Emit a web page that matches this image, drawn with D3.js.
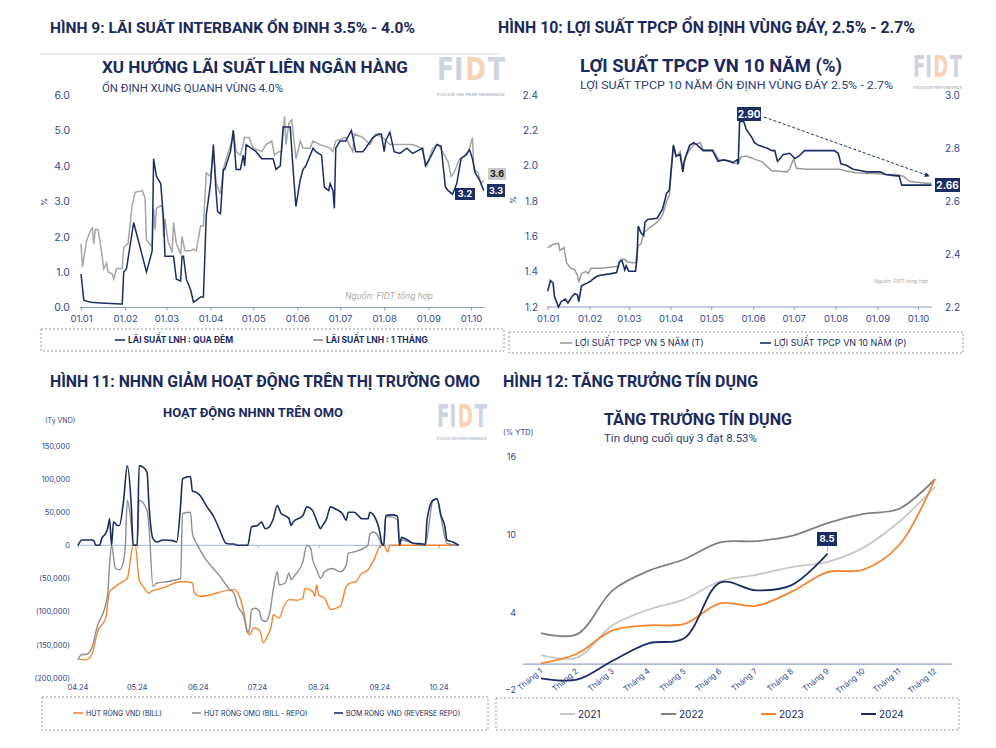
<!DOCTYPE html>
<html><head><meta charset="utf-8">
<script src="https://cdn.jsdelivr.net/npm/d3@7"></script>
<style>
body{margin:0;background:#fff;}
svg{display:block;font-family:Inter,"Noto Sans",sans-serif;}
</style></head><body>
<svg id="c" width="996" height="748"></svg>
<script>
// ---------------- DATA ----------------
// Panel 1: interbank rates (day index from 01.01.2024)
const ovnDays = [0,2,7,14,28,29,30,32,37,46,50,51,53,56,58,59,65,67,70,71,72,74,77,79,81,84,86,88,91,93,95,96,98,100,101,105,107,109,112,114,115,116,123,127,135,137,140,142,147,149,151,154,156,158,163,165,169,171,174,175,177,178,179,182,186,190,193,198,200,205,209,211,213,214,217,220,224,229,233,240,242,245,250,253,256,258,261,264,267,270,273,275,277,280,283];
const ovnVals = [0.95,0.2,0.15,0.13,0.1,0.1,1.0,1.1,2.4,1.0,1.6,4.2,3.7,3.5,2.5,1.45,1.45,0.8,0.75,1.45,1.45,0.8,0.5,0.15,0.2,0.3,0.3,2.6,3.5,4.6,3.2,2.7,2.65,3.9,3.9,4.4,5.0,3.9,3.9,4.3,4.0,4.6,4.4,4.2,4.2,3.9,4.0,5.1,5.1,3.9,2.85,3.6,3.9,4.0,4.5,4.4,4.3,3.4,3.3,3.5,3.3,2.8,4.5,4.7,4.7,5.0,4.4,4.4,4.5,4.8,4.9,4.9,4.4,4.7,4.95,4.4,4.35,4.5,4.35,4.5,4.0,4.2,4.6,4.55,3.4,3.3,3.2,3.5,4.2,4.3,4.45,4.2,3.8,3.6,3.3];
const m1Days = [0,1,4,7,8,9,10,12,14,16,18,19,22,23,25,29,30,33,36,38,43,45,46,49,50,51,52,53,57,58,59,61,64,65,67,70,71,73,77,79,81,84,86,88,91,93,95,98,100,102,106,107,109,112,115,118,121,127,130,134,136,139,141,143,144,146,148,150,151,153,154,156,161,163,168,175,177,179,186,191,192,198,203,207,212,217,224,229,233,239,243,247,251,254,258,260,262,266,271,273,275,276,279,281,283];
const m1Vals = [1.8,1.15,1.9,2.2,2.25,1.8,2.2,2.2,1.7,1.1,1.25,1.0,0.95,0.8,1.1,1.1,1.7,1.8,2.9,3.25,3.3,3.1,1.9,1.75,1.7,2.8,2.2,2.8,2.9,2.0,2.5,1.9,1.55,2.4,1.8,1.5,2.0,1.6,1.6,1.65,1.6,2.3,2.3,3.8,3.7,4.4,3.5,3.2,3.9,4.2,4.7,5.0,4.4,4.3,4.8,4.8,4.5,4.4,4.6,4.7,4.3,4.4,4.4,5.4,4.6,5.2,5.3,4.6,4.2,4.5,4.7,4.5,4.5,4.7,4.6,4.5,4.4,4.7,4.8,4.4,4.9,4.8,4.6,4.9,4.8,4.6,4.6,4.6,4.6,4.5,4.0,4.5,4.6,4.4,4.1,3.7,3.8,4.2,4.3,4.5,4.8,3.9,3.8,3.5,3.6];
const p1YTicks = [0,1,2,3,4,5,6];
const p1XLabels = ["01.01","01.02","01.03","01.04","01.05","01.06","01.07","01.08","01.09","01.10"];

// Panel 2: government bond yields (day index from 01.01.2024)
const y5Days = [0,4,8,9,12,14,17,20,22,23,25,28,30,32,39,46,52,54,57,59,63,65,67,69,71,74,81,85,88,90,93,95,98,100,102,105,108,113,115,122,127,132,135,137,141,143,147,152,159,163,166,169,177,179,182,184,191,206,216,221,228,236,243,250,258,263,268,275,280,284];
const y5Vals = [1.536,1.555,1.56,1.52,1.536,1.45,1.42,1.41,1.38,1.34,1.39,1.40,1.39,1.42,1.42,1.425,1.43,1.47,1.47,1.455,1.45,1.45,1.55,1.555,1.62,1.64,1.68,1.72,1.80,1.83,2.12,2.05,2.08,1.97,2.05,2.09,2.12,2.13,2.09,2.09,2.03,2.03,2.02,2.015,2.01,2.05,2.055,2.04,2.02,1.99,1.97,1.97,1.965,1.98,2.04,1.985,1.98,1.98,1.98,1.97,1.96,1.955,1.955,1.95,1.95,1.94,1.91,1.905,1.9,1.9];
const y10Days = [0,2,4,5,8,10,13,15,18,20,22,23,25,29,31,36,39,46,51,53,55,57,58,60,65,66,67,69,71,72,74,81,85,88,90,93,95,98,100,101,105,108,111,115,122,126,130,135,137,140,141,142,145,147,151,153,156,162,166,168,170,172,174,179,183,186,190,199,206,212,215,217,221,226,231,236,246,250,258,260,262,268,275,284];
const y10Vals = [2.26,2.30,2.29,2.24,2.20,2.22,2.23,2.215,2.24,2.25,2.245,2.22,2.28,2.29,2.295,2.315,2.32,2.325,2.33,2.37,2.375,2.34,2.355,2.335,2.335,2.38,2.505,2.48,2.47,2.52,2.53,2.535,2.57,2.63,2.64,2.81,2.77,2.775,2.71,2.75,2.81,2.82,2.81,2.79,2.79,2.75,2.755,2.75,2.745,2.755,2.74,2.90,2.90,2.87,2.84,2.82,2.81,2.80,2.79,2.79,2.75,2.76,2.775,2.78,2.76,2.77,2.79,2.79,2.79,2.79,2.78,2.74,2.735,2.72,2.715,2.71,2.71,2.70,2.695,2.695,2.66,2.66,2.66,2.66];
const p2LeftTicks = [1.2,1.4,1.6,1.8,2.0,2.2,2.4];
const p2RightTicks = [2.2,2.4,2.6,2.8,3.0];

// Panel 3: OMO (day index from 01.04.2024, values in VND bn)
const billDays = [0,4,7,10,14,16,17,19,21,24,25,28,29,31,33,36,38,40,45,52,55,58,59,62,79,81,84,86,87,89,92,94,96,98,99,102,104,107,111,114,115,119,120,121,122,125,128,133,136,138,141,143,147,150,153,155,157,158,193];
const billVals = [-172000,-173000,-165000,-130000,-110000,-70000,-67000,-62000,-58000,-52000,-50000,0,0,-52000,-62000,-72000,-68000,-67000,-62000,-55000,-55000,-57000,-72000,-77000,-67000,-72000,-100000,-132000,-135000,-125000,-128000,-147000,-137000,-122000,-105000,-110000,-95000,-82000,-83000,-80000,-65000,-70000,-77000,-60000,-75000,-80000,-97000,-92000,-62000,-57000,-55000,-45000,-37000,-22000,-2000,0,-10000,0,0];
const netDays = [0,2,4,7,10,13,15,16,17,19,21,23,24,25,27,28,30,31,35,36,38,40,45,50,52,53,57,58,60,62,65,72,77,79,81,84,86,87,88,90,92,93,95,97,99,101,102,105,107,108,110,114,116,118,119,121,123,125,129,133,136,137,140,143,147,148,150,153,154,155,156,159,162,163,164,170,176,180,182,184,187,193];
const netVals = [-172000,-165000,-165000,-155000,-120000,-100000,-75000,-30000,0,-35000,-37000,-25000,0,68000,30000,0,0,68000,53000,28000,-62000,-57000,-55000,-52000,-50000,48000,50000,18000,3000,-8000,-22000,-47000,-67000,-72000,-92000,-107000,-132000,-125000,-97000,-95000,-100000,-112000,-115000,-105000,-67000,-40000,-60000,-57000,-42000,-52000,-45000,-25000,0,-5000,-22000,-37000,-50000,-40000,-35000,-40000,-30000,-12000,-10000,-7000,0,17000,20000,8000,0,0,43000,43000,38000,0,8000,3000,0,68000,70000,43000,3000,0];
const rrDays = [0,2,7,8,9,11,12,14,15,16,17,18,20,21,23,25,27,28,30,31,33,35,36,38,40,43,48,50,52,53,55,57,58,60,62,65,69,72,75,77,79,81,86,88,91,93,95,97,99,101,103,106,107,108,109,114,116,119,120,122,123,124,126,128,131,134,136,137,140,142,144,147,148,150,153,154,155,156,159,162,163,164,167,170,175,176,177,180,182,184,186,187,190,193];
const rrVals = [0,8000,8000,7000,0,0,10000,18000,25000,40000,0,35000,30000,30000,65000,120000,60000,0,0,120000,118000,110000,60000,10000,5000,8000,7000,5000,60000,100000,103000,104000,82000,80000,75000,60000,42000,22000,3000,2000,2000,0,0,28000,30000,35000,25000,28000,40000,60000,48000,43000,40000,30000,35000,45000,58000,52000,45000,30000,25000,30000,40000,58000,54000,48000,38000,50000,50000,45000,40000,40000,50000,45000,20000,3000,0,45000,46000,44000,0,12000,8000,3000,2000,1000,40000,68000,70000,45000,28000,8000,5000,0];
const p3YTicks = [150000,100000,50000,0,-50000,-100000,-150000,-200000];
const p3XLabels = ["04.24","05.24","06.24","07.24","08.24","09.24","10.24"];

// Panel 4: credit growth (% YTD)
const months = ["Tháng 1","Tháng 2","Tháng 3","Tháng 4","Tháng 5","Tháng 6","Tháng 7","Tháng 8","Tháng 9","Tháng 10","Tháng 11","Tháng 12"];
const c2021 = [0.7,0.5,3.0,4.2,5.0,6.4,6.9,7.5,7.9,9.0,11.0,13.7];
const c2022 = [2.4,2.3,5.7,7.2,8.1,9.4,9.5,9.9,10.9,11.6,12.0,14.3];
const c2023 = [0.05,0.8,2.6,3.0,3.1,4.7,4.5,5.6,7.1,7.3,9.2,14.3];
const c2024 = [-1.1,-1.2,0.26,1.6,2.0,6.3,5.7,6.1,8.53];
const p4YTicks = [16,10,4,-2];

// ---------------- STYLE ----------------
const NAVY = "#1c2d64", TXT = "#1b2a5c", SUB = "#2c3d75", AX = "#34488a", AXL = "#8b9ac4";
const GRAY = "#a6a6a6", ORANGE = "#f5862f";

const svg = d3.select("#c");
svg.append("rect").attr("width",996).attr("height",748).attr("fill","#fff");

function addText(x, y, s, size, o = {}) {
  const t = (o.parent||svg).append("text").attr("x",x).attr("y",y).text(s)
    .attr("font-size",size).attr("fill",o.fill||TXT).attr("font-weight",o.weight||400);
  if (o.anchor) t.attr("text-anchor",o.anchor);
  if (o.italic) t.attr("font-style","italic");
  if (o.family) t.attr("font-family",o.family);
  if (o.len) {
    // shrink the font until its natural width fits, then stretch to exact width
    const nat = t.node().getComputedTextLength();
    if (nat > o.len) t.attr("font-size", size * o.len / nat * 0.995);
    t.attr("textLength",o.len).attr("lengthAdjust","spacingAndGlyphs");
  }
  if (o.rotate) t.attr("transform",`rotate(${o.rotate},${x},${y})`);
  return t;
}
function logo(x, y, w, h, tagY) {
  const fam = "'DejaVu Sans',sans-serif", fs = 20;
  const g = svg.append("g");
  let cx = 0;
  [["FI","#cdd3df"],["D","#f7d3b6"],["T","#cdd3df"]].forEach(([s,col]) => {
    const t = addText(cx, 0, s, fs, {fill:col, weight:900, family:fam, parent:g});
    cx += t.node().getComputedTextLength() + 1.5;
  });
  cx -= 1.5;
  g.attr("transform",`translate(${x},${y+h}) scale(${w/cx},${h/(fs*0.73)})`);
  addText(x, tagY, "FOCUS ON PERFORMANCE", 4, {fill:"#b8bfcc", weight:700, len:w});
}
function tag(x, y, w, h, fill, s, tc, fs) {
  svg.append("rect").attr("x",x).attr("y",y).attr("width",w).attr("height",h).attr("fill",fill);
  addText(x+w/2, y+h/2+fs*0.36, s, fs, {fill:tc, weight:700, anchor:"middle"});
}
function legendBox(x, y, w, h) {
  svg.append("rect").attr("x",x).attr("y",y).attr("width",w).attr("height",h)
    .attr("fill","none").attr("stroke","#8d97bd").attr("stroke-width",1).attr("stroke-dasharray","2,2");
}
function legendItem(x, y, len, color, s, fs, weight, sw) {
  svg.append("line").attr("x1",x).attr("x2",x+len).attr("y1",y).attr("y2",y)
    .attr("stroke",color).attr("stroke-width",sw||1.6);
  addText(x+len+3, y+fs*0.36, s, fs, {fill:TXT, weight:weight||400});
}
function styleAxis(g, lineColor, fs, color) {
  g.selectAll("text").attr("font-size",fs).attr("fill",color).attr("font-family","Inter,'Noto Sans',sans-serif");
  g.select(".domain").attr("stroke",lineColor);
  g.selectAll(".tick line").attr("stroke",lineColor);
}
const zip = (a,b) => a.map((d,i)=>[d,b[i]]);
const TF = "Roboto,Inter,sans-serif";

// ---------------- PANEL TITLES ----------------
addText(50,33,"HÌNH 9: LÃI SUẤT INTERBANK ỔN ĐINH 3.5% - 4.0%",16,{weight:700,len:365,family:TF});
addText(498,33,"HÌNH 10: LỢI SUẤT TPCP ỔN ĐỊNH VÙNG ĐÁY, 2.5% - 2.7%",16,{weight:700,len:417,family:TF});
addText(50,387,"HÌNH 11: NHNN GIẢM HOẠT ĐỘNG TRÊN THỊ TRƯỜNG OMO",16,{weight:700,len:430,family:TF});
addText(503,387,"HÌNH 12: TĂNG TRƯỞNG TÍN DỤNG",16,{weight:700,len:255,family:TF});
svg.append("line").attr("x1",40).attr("x2",500).attr("y1",54).attr("y2",54).attr("stroke","#dcdcdc");

// ---------------- PANEL 1 ----------------
addText(102,73,"XU HƯỚNG LÃI SUẤT LIÊN NGÂN HÀNG",18,{weight:700,len:306,family:TF});
addText(102,92,"ỔN ĐỊNH XUNG QUANH VÙNG 4.0%",11,{fill:SUB,len:181,family:TF});
logo(437,57,68,23,96);
const d0 = new Date(2024,0,1);
const dayDate = (base, d) => new Date(base.getFullYear(), base.getMonth(), base.getDate()+d);
const x1 = d3.scaleTime().domain([d0,new Date(2024,9,1)]).range([81,471]);
const y1 = d3.scaleLinear().domain([0,6]).range([307.5,95]);
const ax1 = svg.append("g").attr("transform","translate(0,307.5)")
  .call(d3.axisBottom(x1).tickValues(p1XLabels.map((s,i)=>new Date(2024,i,1))).tickFormat((d,i)=>p1XLabels[i]).tickSize(3).tickPadding(5))
  .call(g=>g.select(".domain").attr("d","M80,0H485"));
styleAxis(ax1, AXL, 9.5, AX);
const ay1 = svg.append("g").attr("transform","translate(81,0)")
  .call(d3.axisLeft(y1).tickValues(p1YTicks).tickFormat(d3.format(".1f")).tickSize(0).tickPadding(11));
ay1.select(".domain").remove();
styleAxis(ay1, AXL, 10.5, AX);
addText(47,202,"%",8,{fill:AX,rotate:-90,anchor:"middle"});
const l1 = d3.line().x(d=>x1(dayDate(d0,d[0]))).y(d=>y1(d[1]));
svg.append("path").attr("d",l1(zip(m1Days,m1Vals))).attr("fill","none").attr("stroke",GRAY).attr("stroke-width",1.5);
svg.append("path").attr("d",l1(zip(ovnDays,ovnVals))).attr("fill","none").attr("stroke",NAVY).attr("stroke-width",1.5);
addText(345,299,"Nguồn: FIDT tổng hợp",9.5,{fill:"#aaaaaa",italic:true,len:88});
tag(455,188,20,12,NAVY,"3.2","#fff",9);
tag(488,168,18,12,"#c9c9c9","3.6","#1a1a1a",9);
tag(487,184,18,13,NAVY,"3.3","#fff",9);
legendBox(41,329,463,22);
legendItem(115,340,10,NAVY,"LÃI SUẤT LNH : QUA ĐÊM",8.5,700);
legendItem(313,340,10,"#8c8c8c","LÃI SUẤT LNH : 1 THÁNG",8.5,700);

// ---------------- PANEL 2 ----------------
addText(580,72,"LỢI SUẤT TPCP VN 10 NĂM (%)",19,{weight:700,len:262,family:TF});
addText(580,89,"LỢI SUẤT TPCP 10 NĂM ỔN ĐỊNH VÙNG ĐÁY 2.5% - 2.7%",11.5,{fill:SUB,len:313,family:TF});
logo(913,55,49,22,89);
const x2 = d3.scaleTime().domain([d0,new Date(2024,9,1)]).range([547.7,918]);
const y2L = d3.scaleLinear().domain([1.2,2.4]).range([307,95]);
const y2R = d3.scaleLinear().domain([2.2,3.0]).range([307,95]);
const ax2 = svg.append("g").attr("transform","translate(0,307)")
  .call(d3.axisBottom(x2).tickValues(p1XLabels.map((s,i)=>new Date(2024,i,1))).tickFormat((d,i)=>p1XLabels[i]).tickSize(3).tickPadding(5))
  .call(g=>g.select(".domain").attr("d","M547,0H932"));
styleAxis(ax2, AXL, 9.5, AX);
const ay2 = svg.append("g").attr("transform","translate(548,0)")
  .call(d3.axisLeft(y2L).tickValues(p2LeftTicks).tickFormat(d3.format(".1f")).tickSize(0).tickPadding(10));
ay2.select(".domain").remove(); styleAxis(ay2, AXL, 10, AX);
const ay2r = svg.append("g").attr("transform","translate(932,0)")
  .call(d3.axisRight(y2R).tickValues(p2RightTicks).tickFormat(d3.format(".1f")).tickSize(0).tickPadding(13));
ay2r.select(".domain").remove(); styleAxis(ay2r, AXL, 10, AX);
addText(516,200,"%",8,{fill:AX,rotate:-90,anchor:"middle"});
const l2L = d3.line().x(d=>x2(dayDate(d0,d[0]))).y(d=>y2L(d[1]));
const l2R = d3.line().x(d=>x2(dayDate(d0,d[0]))).y(d=>y2R(d[1]));
svg.append("path").attr("d",l2L(zip(y5Days,y5Vals))).attr("fill","none").attr("stroke","#9b9b9b").attr("stroke-width",1.5);
svg.append("path").attr("d",l2R(zip(y10Days,y10Vals))).attr("fill","none").attr("stroke",NAVY).attr("stroke-width",1.6);
svg.append("defs").append("marker").attr("id","ah").attr("viewBox","0 0 6 6").attr("refX",5).attr("refY",3)
  .attr("markerWidth",5).attr("markerHeight",5).attr("orient","auto")
  .append("path").attr("d","M0,0L6,3L0,6Z").attr("fill",NAVY);
svg.append("line").attr("x1",764).attr("y1",117).attr("x2",929).attr("y2",176)
  .attr("stroke",NAVY).attr("stroke-width",1).attr("stroke-dasharray","3,2").attr("marker-end","url(#ah)");
tag(737,107,24,14,NAVY,"2.90","#fff",10);
tag(935,178,25,14,NAVY,"2.66","#fff",10);
addText(874,283,"Nguồn: FIDT tổng hợp",5.5,{fill:"#aaaaaa",italic:true,len:54});
legendBox(509,332,454,21);
legendItem(560,343,12,"#9b9b9b","LỢI SUẤT TPCP VN 5 NĂM (T)",9,400);
legendItem(760,343,11,NAVY,"LỢI SUẤT TPCP VN 10 NĂM (P)",9,400);

// ---------------- PANEL 3 ----------------
addText(163,417,"HOẠT ĐỘNG NHNN TRÊN OMO",13,{weight:700,len:180,family:TF});
addText(45,423,"(Tỷ VND)",7,{fill:AX});
logo(437,404,50,23,440);
const a0 = new Date(2024,3,1);
const x3 = d3.scaleTime().domain([a0,new Date(2024,9,1)]).range([78,439]);
const y3 = d3.scaleLinear().domain([-200000,150000]).range([677.7,446]);
const fmt3 = v => v < 0 ? "(" + d3.format(",")(-v) + ")" : d3.format(",")(v);
const ay3 = svg.append("g").attr("transform","translate(77,0)")
  .call(d3.axisLeft(y3).tickValues(p3YTicks).tickFormat(fmt3).tickSize(0).tickPadding(7));
ay3.select(".domain").remove(); styleAxis(ay3, AXL, 7.5, AX);
const ax3 = svg.append("g").attr("transform",`translate(0,${y3(0)})`)
  .call(d3.axisBottom(x3).tickValues(p3XLabels.map((s,i)=>new Date(2024,3+i,1))).tickFormat("").tickSize(3))
  .call(g=>g.select(".domain").attr("d","M77,0H458"));
styleAxis(ax3, "#a9b5d6", 7.5, AX);
p3XLabels.forEach((s,i)=>addText(x3(new Date(2024,3+i,1)),690,s,7.5,{fill:AX,anchor:"middle"}));
const l3 = d3.line().curve(d3.curveMonotoneX).x(d=>x3(dayDate(a0,d[0]))).y(d=>y3(d[1]));
svg.append("path").attr("d",l3(zip(billDays,billVals))).attr("fill","none").attr("stroke",ORANGE).attr("stroke-width",1.4);
svg.append("path").attr("d",l3(zip(netDays,netVals))).attr("fill","none").attr("stroke","#8e8e8e").attr("stroke-width",1.4);
svg.append("path").attr("d",l3(zip(rrDays,rrVals))).attr("fill","none").attr("stroke",NAVY).attr("stroke-width",1.6);
legendBox(42,697,446,33);
legendItem(73,713,10,ORANGE,"HÚT RÒNG VND (BILL)",7,400);
legendItem(192,713,9,"#8e8e8e","HÚT RÒNG OMO (BILL - REPO)",7,400);
legendItem(334,713,9,NAVY,"BƠM RÒNG VND (REVERSE REPO)",7,400);

// ---------------- PANEL 4 ----------------
addText(604,425,"TĂNG TRƯỞNG TÍN DỤNG",16.5,{weight:700,len:188,family:TF});
addText(604,442,"Tín dụng cuối quý 3 đạt 8.53%",12,{fill:SUB,len:153,family:TF});
addText(503,435,"(% YTD)",7.5,{fill:AX});
const x4 = d3.scalePoint().domain(months).range([541,935]);
const y4 = d3.scaleLinear().domain([-2,16]).range([690,457]);
const ay4 = svg.append("g").attr("transform","translate(523,0)")
  .call(d3.axisLeft(y4).tickValues(p4YTicks).tickFormat(d3.format("d")).tickSize(0).tickPadding(7));
ay4.select(".domain").remove(); styleAxis(ay4, AXL, 9, AX);
svg.append("line").attr("x1",523).attr("x2",952).attr("y1",y4(0)).attr("y2",y4(0)).attr("stroke","#8fa0cc").attr("stroke-width",1.2);
months.forEach(m=>addText(x4(m)+2,672,m,8,{fill:AX,anchor:"end",rotate:-40}));
const l4 = d3.line().curve(d3.curveCatmullRom.alpha(0.5)).x((d,i)=>x4(months[i])).y(d=>y4(d));
[[c2021,"#c8c8c8"],[c2022,"#808080"],[c2023,ORANGE],[c2024,NAVY]].forEach(([arr,col])=>{
  svg.append("path").attr("d",l4(arr)).attr("fill","none").attr("stroke",col).attr("stroke-width",1.8);
});
svg.append("line").attr("x1",x4(months[8])).attr("x2",x4(months[8])).attr("y1",546).attr("y2",y4(c2024[8])-2).attr("stroke","#9aa3bd").attr("stroke-width",0.8);
tag(817,532,20,14,NAVY,"8.5","#fff",9.5);
legendBox(496,698,463,32);
legendItem(560,714,15,"#c8c8c8","2021",10,400,2);
legendItem(661,714,15,"#808080","2022",10,400,2);
legendItem(761,714,15,ORANGE,"2023",10,400,2);
legendItem(861,714,15,NAVY,"2024",10,400,2);
</script>
</body></html>
